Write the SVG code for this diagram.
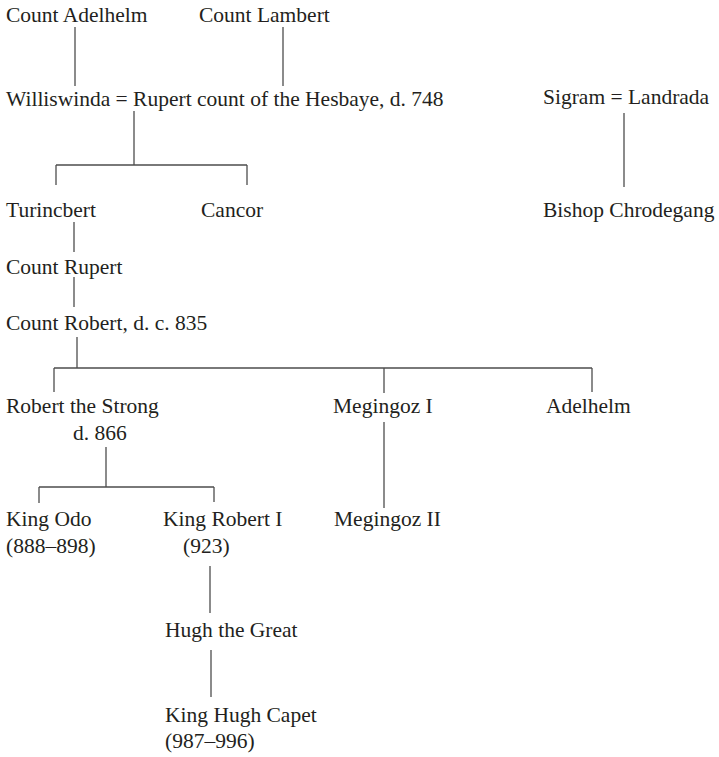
<svg xmlns="http://www.w3.org/2000/svg" width="719" height="757" viewBox="0 0 719 757">
<style>
text{font-family:'Liberation Serif','DejaVu Serif',serif;font-size:21.5px;fill:#231f20}
.c line{stroke:#4d4d4d;stroke-width:1.3;fill:none}
</style>
<rect width="719" height="757" fill="#fff"/>
<g class="c" id="connectors">
<line x1="75" y1="27" x2="75" y2="86"/>
<line x1="283" y1="27" x2="283" y2="86"/>
<line x1="134" y1="111" x2="134" y2="165"/>
<line x1="56" y1="165" x2="247" y2="165"/>
<line x1="56" y1="165" x2="56" y2="185"/>
<line x1="247" y1="165" x2="247" y2="185"/>
<line x1="624" y1="113" x2="624" y2="187"/>
<line x1="74" y1="222" x2="74" y2="252"/>
<line x1="74" y1="277" x2="74" y2="307"/>
<line x1="77" y1="337" x2="77" y2="368"/>
<line x1="54" y1="368" x2="592" y2="368"/>
<line x1="54" y1="368" x2="54" y2="392"/>
<line x1="384" y1="368" x2="384" y2="393"/>
<line x1="592" y1="368" x2="592" y2="392"/>
<line x1="384" y1="422" x2="384" y2="508"/>
<line x1="106" y1="447" x2="106" y2="487"/>
<line x1="39" y1="487" x2="214" y2="487"/>
<line x1="39" y1="487" x2="39" y2="503"/>
<line x1="214" y1="487" x2="214" y2="502"/>
<line x1="210" y1="566" x2="210" y2="613"/>
<line x1="211" y1="650" x2="211" y2="697"/>
</g>
<g font-family="Liberation Serif, serif">
<g id="count-adelhelm"><text x="6" y="22">Count Adelhelm</text></g>
<g id="count-lambert"><text x="199" y="22">Count Lambert</text></g>
<g id="williswinda-rupert"><text x="6" y="106">Williswinda = Rupert count of the Hesbaye, d. 748</text></g>
<g id="sigram-landrada"><text x="543" y="104">Sigram = Landrada</text></g>
<g id="turincbert"><text x="6" y="217">Turincbert</text></g>
<g id="cancor"><text x="201" y="217">Cancor</text></g>
<g id="bishop-chrodegang"><text x="543" y="217">Bishop Chrodegang</text></g>
<g id="count-rupert"><text x="6" y="274">Count Rupert</text></g>
<g id="count-robert"><text x="6" y="330">Count Robert, d. c. 835</text></g>
<g id="robert-the-strong"><text x="6" y="413">Robert the Strong</text><text x="73" y="440">d. 866</text></g>
<g id="megingoz-i"><text x="333" y="413">Megingoz I</text></g>
<g id="adelhelm"><text x="546" y="413">Adelhelm</text></g>
<g id="king-odo"><text x="6" y="526">King Odo</text><text x="6" y="553">(888–898)</text></g>
<g id="king-robert-i"><text x="163" y="526">King Robert I</text><text x="183" y="553">(923)</text></g>
<g id="megingoz-ii"><text x="334" y="526">Megingoz II</text></g>
<g id="hugh-the-great"><text x="165" y="637">Hugh the Great</text></g>
<g id="king-hugh-capet"><text x="165" y="722">King Hugh Capet</text><text x="165" y="748">(987–996)</text></g>
</g>
</svg>
